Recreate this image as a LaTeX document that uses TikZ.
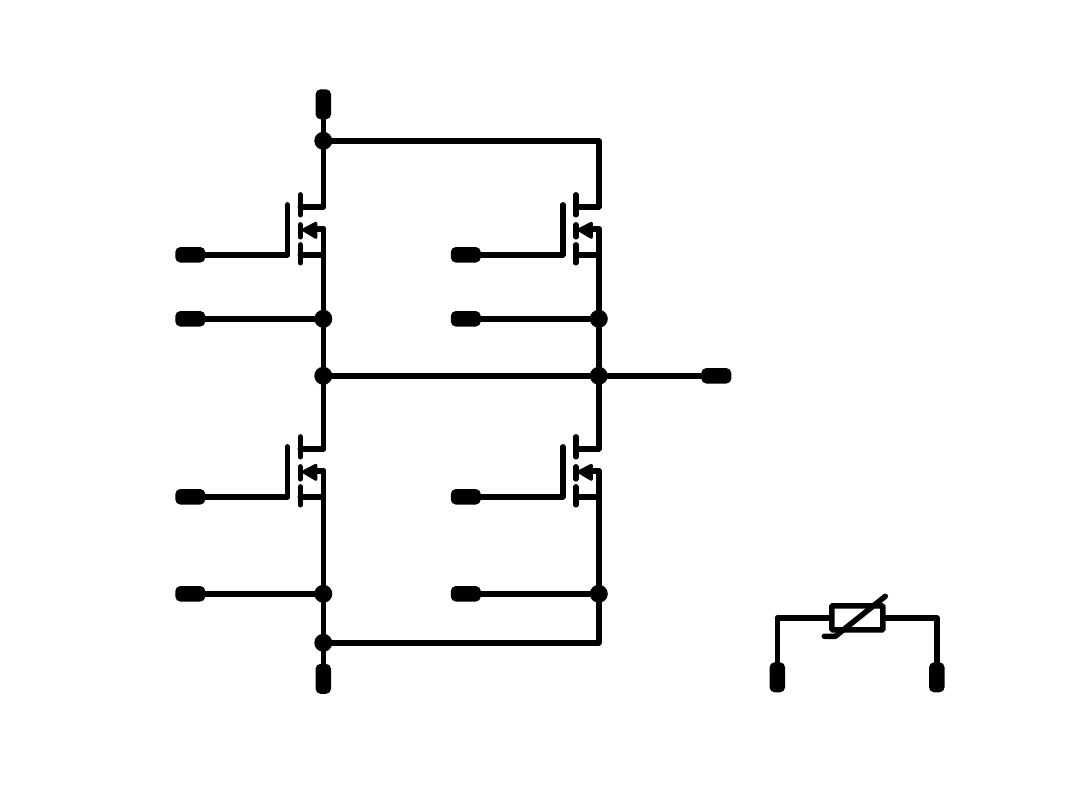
\documentclass[tikz,border=0pt]{standalone}
\usepackage{amsmath}
\usepackage{tikz}
\usetikzlibrary{positioning}

\tikzset{
  wire/.style={draw=black,line width=5.5pt,line cap=round,line join=round},
  dot/.style={circle,fill=black,inner sep=0pt,minimum size=18pt},
  padh/.style={rectangle,rounded corners=5pt,fill=black,inner sep=0pt,minimum width=30pt,minimum height=15.5pt},
  padv/.style={rectangle,rounded corners=5pt,fill=black,inner sep=0pt,minimum width=15.5pt,minimum height=30pt},
}

% name, x of the drain line, y of the gate wire
\newcommand{\mosfet}[3]{
  \begin{scope}[shift={(#2,#3)}]
    \coordinate (#1d) at (0,-48);
    \coordinate (#1s) at (0,-26);
    \coordinate (#1b) at (0,0);
    \coordinate (#1g) at (-36,0);
    \draw[wire] (#1g) -- (-36,-50);
    \draw[wire] (-23,-60) -- (-23,-40);
    \draw[wire] (-23,-30) -- (-23,-18);
    \draw[wire] (-23,-10) -- (-23,8);
    \draw[wire] (-23,-48) -- (#1d);
    \draw[wire] (-23,0) -- (#1b);
    \draw[wire] (-8,-26) -- (#1s);
    \filldraw[black,line width=3pt,line join=round] (-20,-25) -- (-7.5,-31.5) -- (-7.5,-17.5) -- cycle;
  \end{scope}
}

\begin{document}
\begin{tikzpicture}[x=1pt,y=-1pt]
      \useasboundingbox (-0.3,-0.3) rectangle (1079.7,808.7);

      \mosfet{a}{323}{254.5}
      \mosfet{b}{598.5}{254.5}
      \mosfet{c}{323}{496.5}
      \mosfet{e}{598.5}{496.5}

      \node[padv] (vp) at (323,104) {};
      \node[padv] (vn) at (323,678.5) {};
      \node[padh] (out) at (716,375.5) {};

      \node[dot] (top) at (323,140.5) {};
      \node[dot] (ka) at (323,318.5) {};
      \node[dot] (kb) at (598.5,318.5) {};
      \node[dot] (mida) at (323,375.5) {};
      \node[dot] (midb) at (598.5,375.5) {};
      \node[dot] (kc) at (323,593.5) {};
      \node[dot] (ke) at (598.5,593.5) {};
      \node[dot] (bot) at (323,642.5) {};
      \coordinate (topr) at (598.5,140.5);
      \coordinate (botr) at (598.5,642.5);

      \node[padh] (ga) at (190,254.5) {};
      \node[padh] (gb) at (465.5,254.5) {};
      \node[padh] (gc) at (190,496.5) {};
      \node[padh] (ge) at (465.5,496.5) {};
      \node[padh] (sa) at (190,318.5) {};
      \node[padh] (sb) at (465.5,318.5) {};
      \node[padh] (sc) at (190,593.5) {};
      \node[padh] (se) at (465.5,593.5) {};

      \draw[wire] (vp) -- (top) -- (ad);
      \draw[wire] (top) -- (topr) -- (bd);
      \draw[wire] (as) -- (ka) -- (mida) -- (cd);
      \draw[wire] (bs) -- (kb) -- (midb) -- (ed);
      \draw[wire] (mida) -- (midb) -- (out);
      \draw[wire] (cs) -- (kc) -- (bot) -- (vn);
      \draw[wire] (es) -- (ke) -- (botr) -- (bot);

      \draw[wire] (ga) -- (ag);
      \draw[wire] (gb) -- (bg);
      \draw[wire] (gc) -- (cg);
      \draw[wire] (ge) -- (eg);
      \draw[wire] (sa) -- (ka);
      \draw[wire] (sb) -- (kb);
      \draw[wire] (sc) -- (kc);
      \draw[wire] (se) -- (ke);

      % varistor
      \node[draw=black,line width=5.5pt,rounded corners=1pt,inner sep=0pt,minimum width=51pt,minimum height=24pt] (var) at (857,617.5) {};
      \node[padv] (va) at (777,677) {};
      \node[padv] (vb) at (936.5,677) {};
      \coordinate (vac) at (777,617.5);
      \coordinate (vbc) at (936.5,617.5);
      \draw[wire] (va) -- (vac) -- (var);
      \draw[wire] (vb) -- (vbc) -- (var);
      \draw[wire] (824,636) -- (835,636) -- (885,596);

    \end{tikzpicture}
\end{document}
